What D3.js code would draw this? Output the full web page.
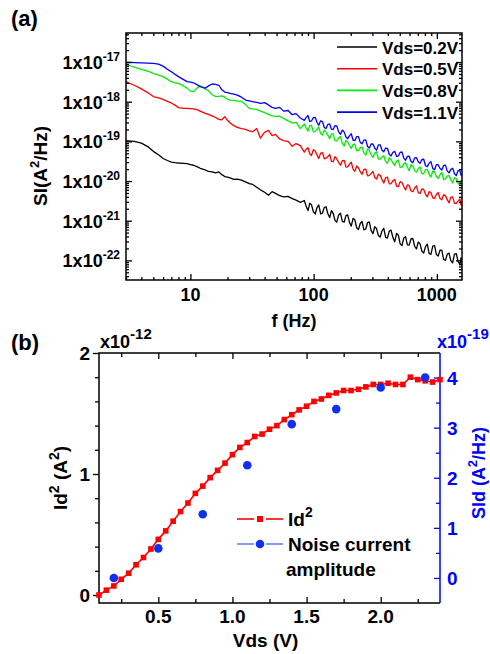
<!DOCTYPE html>
<html>
<head>
<meta charset="utf-8">
<script src="https://cdn.jsdelivr.net/npm/d3@7"></script>
<style>
body { margin: 0; background: #fff; }
svg { display: block; }
</style>
</head>
<body>
<svg id="chart" width="490" height="654"></svg>
<script>
// ---- panel (a): noise spectra ----
var freqLow = [3, 3.5, 4, 4.5, 5, 5.5, 6, 6.5, 7, 7.5, 8, 8.8, 9.4, 10, 10.6, 11.3, 12, 13.2, 14, 15, 16, 17, 18, 19, 20, 21, 22.5, 24, 26, 28, 30, 32, 34.5, 37, 40, 43, 46, 49, 53, 57, 62, 67, 72, 78];
var freqHigh = [84, 90, 96, 103, 110, 118, 126, 135, 144, 154, 165, 177, 189, 202, 216, 231, 247, 265, 283, 303, 324, 347, 371, 397, 425, 455, 487, 521, 557, 596, 638, 683, 731, 782, 837, 895, 958, 1025, 1097, 1174, 1256, 1344, 1438, 1539, 1600];
var freqMid = [87, 93, 99.5, 106.5, 114, 122, 130.5, 139.5, 149, 159.5, 171, 183, 195.5, 209, 223.5, 239, 256, 274, 293, 313.5, 335.5, 359, 384, 411, 440, 471, 504, 539, 576.5, 617, 660.5, 707, 756.5, 809.5, 866, 926.5, 991.5, 1061, 1135.5, 1215, 1300, 1391, 1488.5, 1569.5];

// values on freqLow + freqHigh
var siVds02 = [1.04e-19, 1.0e-19, 9.0e-20, 7.4e-20, 5.6e-20, 4.6e-20, 3.7e-20, 3.3e-20, 3.0e-20, 2.9e-20, 2.85e-20, 2.8e-20, 2.75e-20, 2.6e-20, 2.5e-20, 2.3e-20, 2.1e-20, 1.9e-20, 1.75e-20, 1.7e-20, 1.6e-20, 1.7e-20, 1.45e-20, 1.3e-20, 1.25e-20, 1.2e-20, 1.1e-20, 1.12e-20, 1.05e-20, 9.5e-21, 8.6e-21, 8.2e-21, 7.0e-21, 6.0e-21, 5.2e-21, 4.4e-21, 5.4e-21, 4.9e-21, 4.3e-21, 4.0e-21, 4.1e-21, 3.6e-21, 3.3e-21, 2.9e-21,
  3.23e-21, 1.80e-21, 2.54e-21, 1.48e-21, 2.50e-21, 1.56e-21, 2.25e-21, 1.20e-21, 1.54e-21, 9.18e-22, 1.55e-21, 9.25e-22, 1.40e-21, 7.28e-22, 1.05e-21, 5.97e-22, 9.64e-22, 6.17e-22, 9.29e-22, 4.73e-22, 6.34e-22, 3.88e-22, 6.41e-22, 3.66e-22, 5.77e-22, 2.93e-22, 4.30e-22, 2.35e-22, 3.96e-22, 2.43e-22, 3.56e-22, 1.95e-22, 2.61e-22, 1.53e-22, 2.57e-22, 1.41e-22, 2.37e-22, 1.29e-22, 1.82e-22, 9.9e-23, 1.52e-22, 8.73e-23, 1.47e-22, 7.85e-23, 1.06e-22];
var siVds05 = [3.2e-18, 2.6e-18, 2.1e-18, 1.7e-18, 1.35e-18, 1.25e-18, 1.15e-18, 1.02e-18, 9.3e-19, 8.2e-19, 7.1e-19, 6.8e-19, 6.8e-19, 6.7e-19, 6.6e-19, 6.3e-19, 5.8e-19, 5.1e-19, 4.8e-19, 4.4e-19, 4.0e-19, 3.6e-19, 3.5e-19, 4.2e-19, 3.4e-19, 2.9e-19, 2.5e-19, 2.26e-19, 2.1e-19, 2.0e-19, 1.85e-19, 1.75e-19, 2.1e-19, 1.2e-19, 1.7e-19, 1.9e-19, 1.4e-19, 1.5e-19, 1.15e-19, 1.05e-19, 1.0e-19, 7.5e-20, 8.8e-20, 7.8e-20,
  5.37e-20, 6.93e-20, 4.42e-20, 5.69e-20, 3.68e-20, 5.22e-20, 3.76e-20, 4.67e-20, 3.08e-20, 3.66e-20, 2.51e-20, 3.33e-20, 2.28e-20, 2.97e-20, 1.77e-20, 2.14e-20, 1.48e-20, 1.98e-20, 1.39e-20, 1.75e-20, 1.12e-20, 1.39e-20, 8.89e-21, 1.25e-20, 8.57e-21, 1.10e-20, 7.23e-21, 9.16e-21, 5.96e-21, 7.73e-21, 5.36e-21, 7.57e-21, 4.88e-21, 6.15e-21, 4.02e-21, 5.13e-21, 3.68e-21, 5.14e-21, 3.37e-21, 4.29e-21, 2.81e-21, 4.0e-21, 2.75e-21, 3.53e-21, 2.40e-21];
var siVds08 = [8.8e-18, 7.4e-18, 6.5e-18, 5.9e-18, 5.2e-18, 4.7e-18, 4.3e-18, 3.7e-18, 3.2e-18, 3.0e-18, 2.9e-18, 2.5e-18, 2.2e-18, 1.85e-18, 1.8e-18, 2.2e-18, 2.5e-18, 2.1e-18, 1.9e-18, 1.5e-18, 1.35e-18, 1.36e-18, 1.4e-18, 1.3e-18, 1.15e-18, 1.1e-18, 1.08e-18, 1.05e-18, 1.02e-18, 8.5e-19, 6.8e-19, 6.6e-19, 6.4e-19, 5.8e-19, 5.3e-19, 4.8e-19, 4.4e-19, 4.25e-19, 4.3e-19, 3.8e-19, 3.3e-19, 2.9e-19, 3.0e-19, 2.1e-19,
  2.75e-19, 1.82e-19, 2.54e-19, 1.76e-19, 2.32e-19, 1.44e-19, 1.72e-19, 1.17e-19, 1.54e-19, 1.03e-19, 1.32e-19, 7.62e-20, 9.72e-20, 6.65e-20, 8.67e-20, 5.9e-20, 7.23e-20, 4.53e-20, 5.94e-20, 3.93e-20, 5.47e-20, 3.58e-20, 4.36e-20, 2.79e-20, 3.49e-20, 2.45e-20, 3.38e-20, 2.25e-20, 2.92e-20, 1.81e-20, 2.39e-20, 1.69e-20, 2.28e-20, 1.55e-20, 1.97e-20, 1.26e-20, 1.68e-20, 1.18e-20, 1.65e-20, 1.13e-20, 1.37e-20, 8.96e-21, 1.15e-20, 7.91e-21, 1.05e-20];
var siVds11 = [1.0e-17, 9.7e-18, 9.5e-18, 9.4e-18, 9.3e-18, 8.9e-18, 7.9e-18, 6.6e-18, 5.7e-18, 4.9e-18, 4.3e-18, 3.6e-18, 3.2e-18, 3.1e-18, 3.0e-18, 2.7e-18, 2.4e-18, 2.2e-18, 2.5e-18, 2.8e-18, 2.75e-18, 2.6e-18, 2.0e-18, 1.75e-18, 1.7e-18, 1.62e-18, 1.55e-18, 1.47e-18, 1.3e-18, 1.1e-18, 1.05e-18, 1.0e-18, 9.6e-19, 9.1e-19, 9.5e-19, 8.3e-19, 7.2e-19, 6.8e-19, 7.2e-19, 5.8e-19, 6.0e-19, 4.7e-19, 5.0e-19, 3.9e-19,
  3.39e-19, 4.48e-19, 3.27e-19, 4.03e-19, 2.55e-19, 3.15e-19, 2.11e-19, 2.75e-19, 1.99e-19, 2.47e-19, 1.51e-19, 1.71e-19, 1.17e-19, 1.56e-19, 1.04e-19, 1.32e-19, 8.69e-20, 1.09e-19, 6.82e-20, 8.59e-20, 6.0e-20, 8.2e-20, 5.48e-20, 6.7e-20, 4.3e-20, 5.62e-20, 4.26e-20, 5.4e-20, 3.35e-20, 4.25e-20, 2.88e-20, 3.88e-20, 2.81e-20, 3.54e-20, 2.31e-20, 3.09e-20, 1.93e-20, 2.58e-20, 1.89e-20, 2.52e-20, 1.61e-20, 2.1e-20, 1.38e-20, 1.85e-20, 1.41e-20];

// extra readings of the noisy band on freqMid
var midVds02 = [2.30e-21, 2.75e-21, 1.68e-21, 2.15e-21, 1.48e-21, 2.17e-21, 1.50e-21, 1.79e-21, 1.02e-21, 1.40e-21, 9.62e-22, 1.35e-21, 9.08e-22, 1.14e-21, 6.65e-22, 8.51e-22, 5.85e-22, 8.99e-22, 5.64e-22, 7.05e-22, 4.22e-22, 5.53e-22, 3.80e-22, 5.46e-22, 3.75e-22, 4.79e-22, 2.61e-22, 3.66e-22, 2.47e-22, 3.46e-22, 2.27e-22, 2.90e-22, 1.70e-22, 2.22e-22, 1.49e-22, 2.30e-22, 1.41e-22, 1.80e-22, 1.05e-22, 1.44e-22, 9.70e-23, 1.43e-22, 9.35e-23, 1.16e-22];
var midVds05 = [6.38e-20, 4.88e-20, 6.17e-20, 4.57e-20, 5.09e-20, 3.64e-20, 4.14e-20, 3.15e-20, 4.12e-20, 2.96e-20, 3.27e-20, 2.24e-20, 2.66e-20, 2.0e-20, 2.39e-20, 1.72e-20, 2.0e-20, 1.35e-20, 1.56e-20, 1.22e-20, 1.48e-20, 1.09e-20, 1.21e-20, 8.49e-21, 1.01e-20, 7.48e-21, 9.66e-21, 7.21e-21, 7.96e-21, 5.66e-21, 6.67e-21, 5.05e-21, 6.35e-21, 4.63e-21, 5.40e-21, 3.78e-21, 4.60e-21, 3.62e-21, 4.51e-21, 3.39e-21, 3.94e-21, 2.73e-21, 3.12e-21, 2.51e-21];
var midVds08 = [2.16e-19, 2.50e-19, 1.74e-19, 2.0e-19, 1.57e-19, 1.95e-19, 1.44e-19, 1.54e-19, 1.04e-19, 1.21e-19, 8.81e-20, 1.07e-19, 7.85e-20, 8.32e-20, 5.74e-20, 6.84e-20, 5.04e-20, 6.46e-20, 4.61e-20, 5.08e-20, 3.56e-20, 4.04e-20, 3.10e-20, 3.88e-20, 2.86e-20, 3.19e-20, 2.21e-20, 2.74e-20, 2.24e-20, 2.59e-20, 1.84e-20, 2.06e-20, 1.52e-20, 1.93e-20, 1.49e-20, 1.81e-20, 1.30e-20, 1.44e-20, 1.08e-20, 1.35e-20, 1.08e-20, 1.22e-20, 8.79e-21, 1.02e-20];
var midVds11 = [4.03e-19, 3.15e-19, 3.98e-19, 3.02e-19, 3.29e-19, 2.24e-19, 2.67e-19, 2.03e-19, 2.48e-19, 1.74e-19, 1.93e-19, 1.29e-19, 1.40e-19, 1.07e-19, 1.32e-19, 9.44e-20, 1.08e-19, 7.41e-20, 8.59e-20, 6.70e-20, 8.15e-20, 5.97e-20, 6.79e-20, 4.67e-20, 5.32e-20, 4.21e-20, 5.31e-20, 3.78e-20, 4.18e-20, 3.11e-20, 3.84e-20, 3.04e-20, 3.49e-20, 2.43e-20, 2.83e-20, 2.08e-20, 2.59e-20, 2.08e-20, 2.48e-20, 1.78e-20, 1.97e-20, 1.53e-20, 1.84e-20, 1.41e-20];

var seriesNames = ["Vds=0.2V", "Vds=0.5V", "Vds=0.8V", "Vds=1.1V"];
var seriesColors = ["#000000", "#ff0000", "#00ee00", "#0000ff"];
var freqTicks = [10, 100, 1000];
var siExps = [-17, -18, -19, -20, -21, -22];

// ---- panel (b): Id^2 and noise amplitude vs Vds ----
var vds = [0.10, 0.15, 0.20, 0.25, 0.30, 0.35, 0.40, 0.45, 0.50, 0.55, 0.60, 0.65, 0.70, 0.75, 0.80, 0.85, 0.90, 0.95, 1.00, 1.05, 1.10, 1.15, 1.20, 1.25, 1.30, 1.35, 1.40, 1.45, 1.50, 1.55, 1.60, 1.65, 1.70, 1.75, 1.80, 1.85, 1.90, 1.95, 2.00, 2.05, 2.10, 2.15, 2.20, 2.25, 2.30, 2.35, 2.40];
var id2 = [0.00, 0.04, 0.075, 0.13, 0.18, 0.25, 0.31, 0.38, 0.46, 0.53, 0.61, 0.69, 0.76, 0.84, 0.90, 0.97, 1.03, 1.09, 1.16, 1.22, 1.26, 1.31, 1.33, 1.37, 1.40, 1.45, 1.49, 1.53, 1.56, 1.60, 1.62, 1.65, 1.67, 1.69, 1.69, 1.70, 1.72, 1.74, 1.74, 1.75, 1.74, 1.74, 1.80, 1.78, 1.77, 1.76, 1.78];
var noiseVds = [0.2, 0.5, 0.8, 1.1, 1.4, 1.7, 2.0, 2.3];
var noiseAmp = [0.0, 0.59, 1.27, 2.25, 3.07, 3.37, 3.80, 4.0];
var vdsTicks = [0.5, 1.0, 1.5, 2.0];
var id2Ticks = [0, 1, 2];
var sidTicks = [0, 1, 2, 3, 4];

var svg = d3.select("#chart");
var font = "'Liberation Sans', Arial, Helvetica, sans-serif";
var blue = "#0000ff";

function ticks(g, axisFn, scale, values, size, tr, color) {
  g.append("g")
    .attr("transform", tr)
    .attr("color", color || "#000")
    .call(axisFn(scale).tickValues(values).tickSize(size).tickFormat(""))
    .call(function (a) { a.select(".domain").remove(); a.selectAll("line").attr("stroke-width", 1.3); });
}

// ================= panel (a) =================
var xA = d3.scaleLog().domain([3, 1600]).range([126, 462]);
var yA = d3.scaleLog().domain([3.2e-23, 5.4e-17]).range([280, 33]);
var gA = svg.append("g");

var xA0 = xA.range()[0], xA1 = xA.range()[1], yA0 = yA.range()[1], yA1 = yA.range()[0];

svg.append("clipPath").attr("id", "clipA").append("rect")
  .attr("x", xA0).attr("y", yA0).attr("width", xA1 - xA0).attr("height", yA1 - yA0);

var freq = freqLow.concat(freqHigh);
var spectra = [[siVds02, midVds02], [siVds05, midVds05], [siVds08, midVds08], [siVds11, midVds11]];
var spectraPts = spectra.map(function (s) {
  var pts = freq.map(function (f, i) { return [f, s[0][i]]; })
    .concat(freqMid.map(function (f, i) { return [f, s[1][i]]; }));
  return pts.sort(function (a, b) { return a[0] - b[0]; });
});
var lineA = d3.line().x(function (d) { return xA(d[0]); }).y(function (d) { return yA(d[1]); });

gA.append("g").attr("clip-path", "url(#clipA)")
  .selectAll("path").data(spectraPts).join("path")
  .attr("d", lineA)
  .attr("fill", "none")
  .attr("stroke", function (s, i) { return seriesColors[i]; })
  .attr("stroke-width", 1.3)
  .attr("stroke-linejoin", "round");

// ticks (inward, mirrored)
var xMinor = xA.ticks().filter(function (v) { return freqTicks.indexOf(v) < 0; });
var yMajor = siExps.map(function (e) { return Math.pow(10, e); });
var yMinor = yA.ticks().filter(function (v) { return Math.abs(Math.log10(v) - Math.round(Math.log10(v))) > 1e-6; });
ticks(gA, d3.axisBottom, xA, freqTicks, -6, "translate(0," + yA1 + ")");
ticks(gA, d3.axisBottom, xA, xMinor, -3, "translate(0," + yA1 + ")");
ticks(gA, d3.axisTop, xA, freqTicks, -6, "translate(0," + yA0 + ")");
ticks(gA, d3.axisTop, xA, xMinor, -3, "translate(0," + yA0 + ")");
ticks(gA, d3.axisLeft, yA, yMajor, -6, "translate(" + xA0 + ",0)");
ticks(gA, d3.axisLeft, yA, yMinor, -3, "translate(" + xA0 + ",0)");
ticks(gA, d3.axisRight, yA, yMajor, -6, "translate(" + xA1 + ",0)");
ticks(gA, d3.axisRight, yA, yMinor, -3, "translate(" + xA1 + ",0)");

gA.append("rect").attr("x", xA0).attr("y", yA0).attr("width", xA1 - xA0).attr("height", yA1 - yA0)
  .attr("fill", "none").attr("stroke", "#000").attr("stroke-width", 1.5);

// y tick labels 1x10^-n
siExps.forEach(function (e) {
  var t = gA.append("text").attr("x", xA0 - 6).attr("y", yA(Math.pow(10, e)) + 7)
    .attr("text-anchor", "end").attr("font-family", font).attr("font-weight", "bold").attr("font-size", 18);
  t.append("tspan").text("1x10");
  t.append("tspan").attr("dy", -8).attr("font-size", 12).text(String(e));
});

// x tick labels
gA.selectAll("text.xl").data(freqTicks).join("text")
  .attr("x", function (d) { return xA(d); }).attr("y", yA1 + 21)
  .attr("text-anchor", "middle").attr("font-family", font).attr("font-weight", "bold").attr("font-size", 18)
  .text(function (d) { return d; });

gA.append("text").attr("x", (xA0 + xA1) / 2).attr("y", 327)
  .attr("text-anchor", "middle").attr("font-family", font).attr("font-weight", "bold").attr("font-size", 18)
  .text("f (Hz)");

var ttlA = gA.append("text").attr("transform", "translate(47,166) rotate(-90)")
  .attr("text-anchor", "middle").attr("font-family", font).attr("font-weight", "bold").attr("font-size", 19);
ttlA.append("tspan").text("SI(A");
ttlA.append("tspan").attr("dy", -8).attr("font-size", 13).text("2");
ttlA.append("tspan").attr("dy", 8).text("/Hz)");

gA.append("text").attr("x", 11).attr("y", 26).attr("font-family", font).attr("font-weight", "bold").attr("font-size", 22).text("(a)");

// legend (a)
seriesNames.forEach(function (name, i) {
  var yy = 47 + i * 21.7;
  gA.append("line").attr("x1", 337).attr("x2", 377).attr("y1", yy).attr("y2", yy)
    .attr("stroke", seriesColors[i]).attr("stroke-width", 1.6);
  gA.append("text").attr("x", 382).attr("y", yy + 6.5)
    .attr("font-family", font).attr("font-weight", "bold").attr("font-size", 17).text(name);
});

// ================= panel (b) =================
var xB = d3.scaleLinear().domain([0.1, 2.4]).range([99, 440]);
var yBL = d3.scaleLinear().domain([-0.066, 2]).range([603, 353]);
var yBR = d3.scaleLinear().domain([-0.5, 4.49]).range([603, 353]);
var gB = svg.append("g");
var xB0 = xB.range()[0], xB1 = xB.range()[1], yB0 = yBL.range()[1], yB1 = yBL.range()[0];

var xBMinor = d3.range(0.25, 2.4, 0.5);
var yLMinor = yBL.ticks(10).filter(function (v) { return id2Ticks.indexOf(v) < 0 && v > 0; });
var yRMinor = d3.range(0.5, 4, 1);

ticks(gB, d3.axisBottom, xB, vdsTicks, -6, "translate(0," + yB1 + ")");
ticks(gB, d3.axisBottom, xB, xBMinor, -4, "translate(0," + yB1 + ")");
ticks(gB, d3.axisTop, xB, vdsTicks, -6, "translate(0," + yB0 + ")");
ticks(gB, d3.axisTop, xB, xBMinor, -4, "translate(0," + yB0 + ")");
ticks(gB, d3.axisLeft, yBL, id2Ticks, 6, "translate(" + xB0 + ",0)");
ticks(gB, d3.axisLeft, yBL, yLMinor, 4, "translate(" + xB0 + ",0)");
ticks(gB, d3.axisRight, yBR, sidTicks, -6, "translate(" + xB1 + ",0)", blue);
ticks(gB, d3.axisRight, yBR, yRMinor, -4, "translate(" + xB1 + ",0)", blue);

gB.append("path").attr("d", "M" + xB1 + "," + yB0 + "H" + xB0 + "V" + yB1 + "H" + xB1)
  .attr("fill", "none").attr("stroke", "#000").attr("stroke-width", 1.5);
gB.append("line").attr("x1", xB1).attr("x2", xB1).attr("y1", yB0).attr("y2", yB1)
  .attr("stroke", blue).attr("stroke-width", 1.5);

// Id^2 line + squares
var idPts = vds.map(function (v, i) { return [v, id2[i]]; });
gB.append("path")
  .attr("d", d3.line().x(function (d) { return xB(d[0]); }).y(function (d) { return yBL(d[1]); })(idPts))
  .attr("fill", "none").attr("stroke", "#ff0000").attr("stroke-width", 1.6);
gB.selectAll("rect.sq").data(idPts).join("rect")
  .attr("x", function (d) { return xB(d[0]) - 2.8; }).attr("y", function (d) { return yBL(d[1]) - 2.8; })
  .attr("width", 5.6).attr("height", 5.6).attr("fill", "#ff0000");

// noise amplitude dots
gB.selectAll("circle.nz").data(noiseVds).join("circle")
  .attr("cx", function (d) { return xB(d); }).attr("cy", function (d, i) { return yBR(noiseAmp[i]); })
  .attr("r", 4.3).attr("fill", "#1030f0");

// tick labels
gB.selectAll("text.xb").data(vdsTicks).join("text")
  .attr("x", function (d) { return xB(d); }).attr("y", 623)
  .attr("text-anchor", "middle").attr("font-family", font).attr("font-weight", "bold").attr("font-size", 19)
  .text(d3.format(".1f"));
gB.selectAll("text.yl").data(id2Ticks).join("text")
  .attr("x", xB0 - 9).attr("y", function (d) { return yBL(d) + 7; })
  .attr("text-anchor", "end").attr("font-family", font).attr("font-weight", "bold").attr("font-size", 19)
  .text(function (d) { return d; });
gB.selectAll("text.yr").data(sidTicks).join("text")
  .attr("x", xB1 + 7).attr("y", function (d) { return yBR(d) + 7; })
  .attr("font-family", font).attr("font-weight", "bold").attr("font-size", 19).attr("fill", blue)
  .text(function (d) { return d; });

var m1 = gB.append("text").attr("x", 100).attr("y", 348).attr("font-family", font).attr("font-weight", "bold").attr("font-size", 18);
m1.append("tspan").text("x10");
m1.append("tspan").attr("dy", -9).attr("font-size", 15).text("-12");
var m2 = gB.append("text").attr("x", 437).attr("y", 348).attr("font-family", font).attr("font-weight", "bold").attr("font-size", 18).attr("fill", blue);
m2.append("tspan").text("x10");
m2.append("tspan").attr("dy", -9).attr("font-size", 15).text("-19");

gB.append("text").attr("x", 11).attr("y", 350).attr("font-family", font).attr("font-weight", "bold").attr("font-size", 22).text("(b)");

gB.append("text").attr("x", (xB0 + xB1) / 2 - 4).attr("y", 647)
  .attr("text-anchor", "middle").attr("font-family", font).attr("font-weight", "bold").attr("font-size", 19)
  .text("Vds (V)");

var ttlL = gB.append("text").attr("transform", "translate(67,478) rotate(-90)")
  .attr("text-anchor", "middle").attr("font-family", font).attr("font-weight", "bold").attr("font-size", 19);
ttlL.append("tspan").text("Id");
ttlL.append("tspan").attr("dy", -8).attr("font-size", 14).text("2");
ttlL.append("tspan").attr("dy", 8).text(" (A");
ttlL.append("tspan").attr("dy", -8).attr("font-size", 14).text("2");
ttlL.append("tspan").attr("dy", 8).text(")");

var ttlR = gB.append("text").attr("transform", "translate(485,473) rotate(-90)")
  .attr("text-anchor", "middle").attr("font-family", font).attr("font-weight", "bold").attr("font-size", 18).attr("fill", blue);
ttlR.append("tspan").text("SId (A");
ttlR.append("tspan").attr("dy", -8).attr("font-size", 13).text("2");
ttlR.append("tspan").attr("dy", 8).text("/Hz)");

// legend (b)
[[519, "#ff0000", 1.6], [544, "#1030f0", 1]].forEach(function (r, i) {
  gB.append("line").attr("x1", 237).attr("x2", 254).attr("y1", r[0]).attr("y2", r[0]).attr("stroke", r[1]).attr("stroke-width", r[2]);
  gB.append("line").attr("x1", 266).attr("x2", 283).attr("y1", r[0]).attr("y2", r[0]).attr("stroke", r[1]).attr("stroke-width", r[2]);
  if (i === 0) {
    gB.append("rect").attr("x", 257).attr("y", r[0] - 3).attr("width", 6).attr("height", 6).attr("fill", r[1]);
  } else {
    gB.append("circle").attr("cx", 260).attr("cy", r[0]).attr("r", 4.3).attr("fill", r[1]);
  }
});
var lg1 = gB.append("text").attr("x", 288).attr("y", 526).attr("font-family", font).attr("font-weight", "bold").attr("font-size", 19);
lg1.append("tspan").text("Id");
lg1.append("tspan").attr("dy", -9).attr("font-size", 14).text("2");
gB.append("text").attr("x", 288).attr("y", 551).attr("font-family", font).attr("font-weight", "bold").attr("font-size", 19).text("Noise current");
gB.append("text").attr("x", 286).attr("y", 576).attr("font-family", font).attr("font-weight", "bold").attr("font-size", 19).text("amplitude");
</script>
</body>
</html>
